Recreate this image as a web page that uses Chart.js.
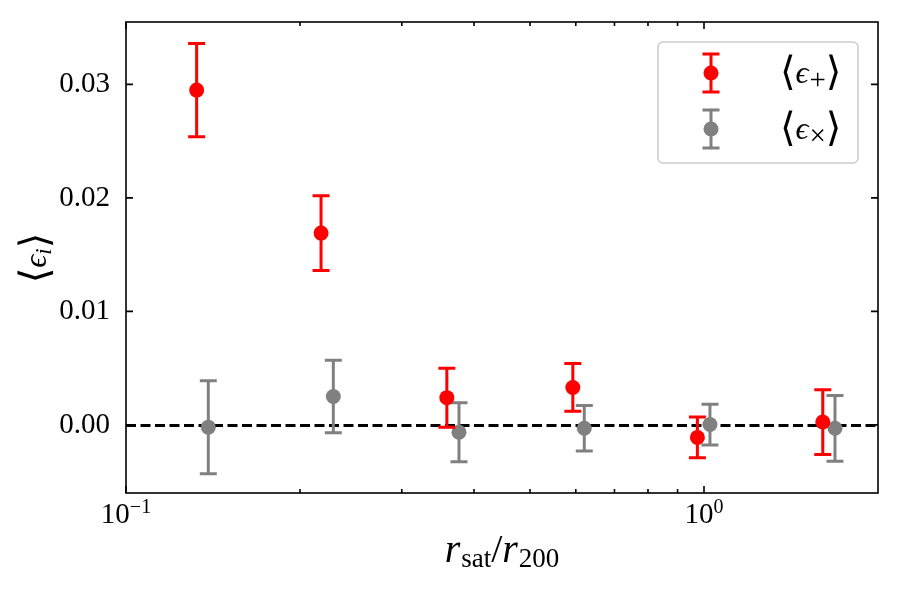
<!DOCTYPE html>
<html>
<head>
<meta charset="utf-8">
<script src="https://cdn.jsdelivr.net/npm/chart.js@4.4.1/dist/chart.umd.min.js"></script>
<style>
  html, body { margin: 0; padding: 0; background: #fff; }
  #wrap { width: 900px; height: 600px; }
</style>
</head>
<body>
<div id="wrap"><canvas id="errChart" width="900" height="600"></canvas></div>
<script>
// data
const xPlus = [0.1325, 0.2175, 0.359, 0.593, 0.974, 1.605];
const ePlus = [0.0295, 0.0169, 0.0024, 0.0033, -0.0011, 0.00025];
const ePlusErr = [0.0041, 0.0033, 0.0026, 0.0021, 0.0018, 0.00285];

const xCross = [0.1388, 0.2284, 0.3768, 0.6207, 1.024, 1.685];
const eCross = [-0.0002, 0.0025, -0.00065, -0.0003, 0.00003, -0.0003];
const eCrossErr = [0.0041, 0.0032, 0.0026, 0.0020, 0.0018, 0.0029];

const yTicks = [0, 0.01, 0.02, 0.03];
const xMajorTicks = [0.1, 1];
const xMajorExp = ['\u22121', '0'];
const xMinorTicks = [0.2, 0.3, 0.4, 0.5, 0.6, 0.7, 0.8, 0.9];

const SERIF = '"Liberation Serif", "DejaVu Serif", serif';

// draw a run of text pieces (size, italic, vertical shift)
const drawRich = (ctx, parts, x, y, align) => {
    let total = 0;
    parts.forEach(p => {
        ctx.font = (p.italic ? 'italic ' : '') + p.size + 'px ' + SERIF;
        p.w = ctx.measureText(p.t).width;
        total += p.w + (p.gap || 0);
    });
    let cx = align === 'center' ? x - total / 2 : x;
    ctx.textAlign = 'left';
    ctx.textBaseline = 'alphabetic';
    parts.forEach(p => {
        ctx.font = (p.italic ? 'italic ' : '') + p.size + 'px ' + SERIF;
        ctx.fillText(p.t, cx, y + (p.dy || 0));
        cx += p.w + (p.gap || 0);
    });
};

const errors = [ePlusErr, eCrossErr];
const xsAll = [xPlus, xCross];
const ysAll = [ePlus, eCross];

const errorBarPlugin = {
    id: 'errorBars',
    beforeDatasetsDraw(chart) {
        const { ctx, chartArea, scales } = chart;
        // zero line
        const y0 = Math.round(scales.y.getPixelForValue(0)) + 0.5;
        ctx.save();
        ctx.strokeStyle = '#000';
        ctx.lineWidth = 3;
        ctx.setLineDash([10, 4.5]);
        ctx.beginPath();
        ctx.moveTo(chartArea.left, y0);
        ctx.lineTo(chartArea.right, y0);
        ctx.stroke();
        ctx.restore();
    },
    beforeDatasetDraw(chart, args) {
        const { ctx, scales } = chart;
        const i = args.index;
        const color = chart.data.datasets[i].backgroundColor;
        ctx.save();
        ctx.strokeStyle = color;
        ctx.lineWidth = 3;
        xsAll[i].forEach((xv, j) => {
            const px = scales.x.getPixelForValue(xv);
            const top = scales.y.getPixelForValue(ysAll[i][j] + errors[i][j]);
            const bot = scales.y.getPixelForValue(ysAll[i][j] - errors[i][j]);
            ctx.beginPath();
            ctx.moveTo(px, top); ctx.lineTo(px, bot);
            ctx.moveTo(px - 8.5, top); ctx.lineTo(px + 8.5, top);
            ctx.moveTo(px - 8.5, bot); ctx.lineTo(px + 8.5, bot);
            ctx.stroke();
        });
        ctx.restore();
    },
    afterDraw(chart) {
        const { ctx, chartArea, scales } = chart;
        const { left, right, top, bottom } = chartArea;
        ctx.save();
        ctx.strokeStyle = '#000';
        ctx.lineWidth = 1.6;
        ctx.strokeRect(left, top, right - left, bottom - top);

        // inward ticks on all four sides
        ctx.beginPath();
        yTicks.forEach(v => {
            const py = scales.y.getPixelForValue(v);
            ctx.moveTo(left, py); ctx.lineTo(left + 7, py);
            ctx.moveTo(right, py); ctx.lineTo(right - 7, py);
        });
        xMajorTicks.forEach(v => {
            const px = scales.x.getPixelForValue(v);
            ctx.moveTo(px, bottom); ctx.lineTo(px, bottom - 7);
            ctx.moveTo(px, top); ctx.lineTo(px, top + 7);
        });
        xMinorTicks.forEach(v => {
            const px = scales.x.getPixelForValue(v);
            ctx.moveTo(px, bottom); ctx.lineTo(px, bottom - 4);
            ctx.moveTo(px, top); ctx.lineTo(px, top + 4);
        });
        ctx.stroke();

        ctx.fillStyle = '#000';
        // x tick labels 10^n
        xMajorTicks.forEach((v, k) => {
            const px = scales.x.getPixelForValue(v);
            drawRich(ctx, [
                { t: '10', size: 29 },
                { t: xMajorExp[k], size: 20, dy: -10 }
            ], px, 523, 'center');
        });

        // x axis title
        drawRich(ctx, [
            { t: 'r', size: 40, italic: true, gap: 1 },
            { t: 'sat', size: 27, dy: 5 },
            { t: '/', size: 40 },
            { t: 'r', size: 40, italic: true, gap: 1 },
            { t: '200', size: 27, dy: 5 }
        ], (left + right) / 2, 562, 'center');

        // y axis title, rotated
        ctx.save();
        ctx.translate(46, 258);
        ctx.rotate(-Math.PI / 2);
        drawRich(ctx, [
            { t: '\u27E8', size: 40, dy: 2 },
            { t: '\u03F5', size: 32, italic: true },
            { t: 'i', size: 23, italic: true, dy: 5 },
            { t: '\u27E9', size: 40, dy: 2 }
        ], 0, 0, 'center');
        ctx.restore();

        // legend
        const lx = 658, ly = 42, lw = 200, lh = 121;
        ctx.fillStyle = 'rgba(255,255,255,0.8)';
        ctx.strokeStyle = '#cccccc';
        ctx.lineWidth = 1.5;
        ctx.beginPath();
        ctx.roundRect(lx, ly, lw, lh, 5);
        ctx.fill();
        ctx.stroke();

        const subs = ['+', '\u00D7'];
        [73, 129].forEach((cy, i) => {
            const color = chart.data.datasets[i].backgroundColor;
            ctx.strokeStyle = color;
            ctx.fillStyle = color;
            ctx.lineWidth = 3;
            ctx.beginPath();
            ctx.moveTo(711, cy - 19); ctx.lineTo(711, cy + 19);
            ctx.moveTo(702.5, cy - 19); ctx.lineTo(719.5, cy - 19);
            ctx.moveTo(702.5, cy + 19); ctx.lineTo(719.5, cy + 19);
            ctx.stroke();
            ctx.beginPath();
            ctx.arc(711, cy, 7.5, 0, Math.PI * 2);
            ctx.fill();
            ctx.fillStyle = '#000';
            drawRich(ctx, [
                { t: '\u27E8', size: 40, dy: 2 },
                { t: '\u03F5', size: 32, italic: true, gap: 1 },
                { t: subs[i], size: 29, dy: 6 },
                { t: '\u27E9', size: 40, dy: 2 }
            ], 780, cy + 10, 'left');
        });
        ctx.restore();
    }
};

const ctx = document.getElementById('errChart').getContext('2d');
window.ellipticityChart = new Chart(ctx, {
    type: 'scatter',
    data: {
        datasets: [
            {
                label: '\u27E8\u03F5+\u27E9',
                data: xPlus.map((x, j) => ({ x: x, y: ePlus[j] })),
                backgroundColor: '#ff0000',
                borderWidth: 0,
                pointRadius: 7.5,
                pointHoverRadius: 7.5
            },
            {
                label: '\u27E8\u03F5\u00D7\u27E9',
                data: xCross.map((x, j) => ({ x: x, y: eCross[j] })),
                backgroundColor: '#808080',
                borderWidth: 0,
                pointRadius: 7.5,
                pointHoverRadius: 7.5
            }
        ]
    },
    options: {
        responsive: false,
        animation: false,
        layout: { padding: { left: 0, right: 22, top: 22, bottom: 0 } },
        plugins: {
            legend: { display: false },
            tooltip: { enabled: false }
        },
        scales: {
            x: {
                type: 'logarithmic',
                min: 0.1,
                max: 2.0,
                grid: { display: false },
                border: { display: false },
                ticks: { display: false },
                afterFit: (scale) => {
                    scale.height = 107;
                    scale.paddingLeft = 0; scale.paddingRight = 0;
                }
            },
            y: {
                type: 'linear',
                min: -0.006,
                max: 0.0355,
                grid: { display: false },
                border: { display: false },
                afterBuildTicks: (scale) => {
                    scale.ticks = yTicks.map(v => ({ value: v }));
                },
                ticks: {
                    color: '#000',
                    padding: 8,
                    font: { family: SERIF, size: 29 },
                    callback: (v) => Number(v).toFixed(2)
                },
                afterFit: (scale) => {
                    scale.width = 126;
                    scale.paddingTop = 0; scale.paddingBottom = 0;
                }
            }
        }
    },
    plugins: [errorBarPlugin]
});
</script>
</body>
</html>
